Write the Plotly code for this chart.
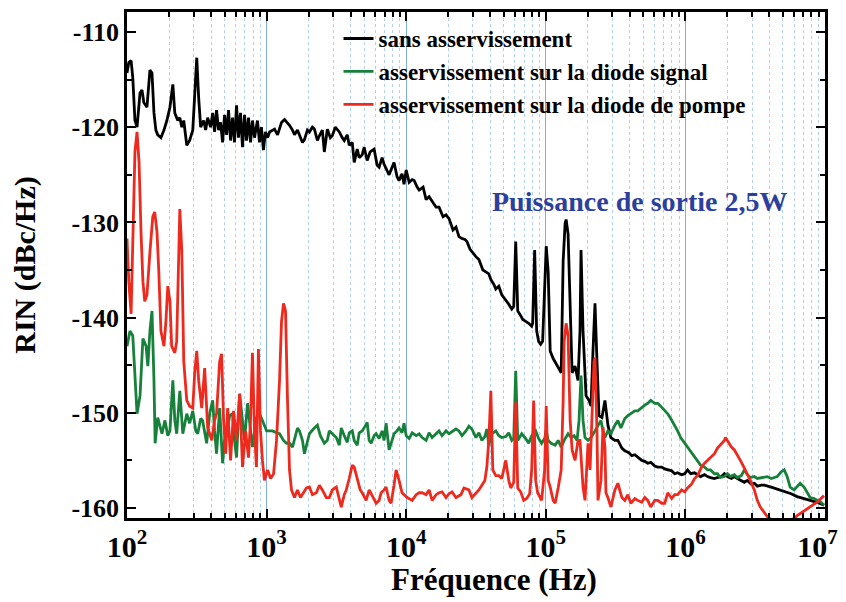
import plotly.graph_objects as go

# ---------------- data ----------------
series_names = ["sans asservissement",
                "asservissement sur la diode signal",
                "asservissement sur la diode de pompe"]

black_freq = [100, 103, 107, 110, 114, 118, 124, 128, 132, 139, 146, 151, 156, 161, 166, 175, 184, 193, 203, 213,
              220, 231, 239, 247, 255, 268, 281, 296, 306, 316, 326, 337, 354, 366, 378, 397, 411, 424, 438, 453,
              468, 484, 500, 517, 534, 552, 570, 589, 609, 629, 650, 672, 695, 718, 742, 767, 792, 819, 860, 889,
              918, 949, 981,
              1017, 1050, 1140, 1198, 1279, 1344, 1412, 1459, 1533, 1584, 1664, 1719, 1806, 1866, 1961, 2026, 2128,
              2200, 2311, 2388, 2508, 2592, 2723, 2861, 2956, 3106, 3317, 3484, 3600, 3782, 3908, 4105, 4243, 4457,
              4606, 4839, 5000, 5253, 5518, 5893, 6191, 6398, 6721, 6946, 7297, 7541, 7922, 8186, 8600, 8887, 9336,
              9648,
              10000, 10500, 11040, 11400, 11980, 12380, 13220, 13890, 14590, 15330, 16370, 17190, 18360, 19290,
              20260, 21640, 22730, 23880, 25080, 26350, 27230, 28610, 29560, 31570, 33170, 35420, 37200, 39080,
              40390, 42430, 43840, 46060, 48390, 50830, 54280, 57030, 58930, 60900, 62940, 66120, 68330, 71780,
              75410, 79220, 80530, 83220, 86000, 88870, 91840, 94910, 98080,
              100700, 104000, 107500, 112900, 118600, 124600, 128900, 133100, 137500, 139800, 144400, 149400,
              154300, 162000, 170200, 175800, 178800, 184800, 194200, 204000, 210800, 217800, 225100, 232600,
              240400, 252500, 265200, 278600, 292700, 312600, 328400, 350700, 368300, 393400, 413300, 434200,
              456100, 487000, 511600, 537500, 564700, 603000, 633500, 677000, 711000, 747000, 798000, 838000,
              880000, 940000, 987000,
              1.036e6, 1.089e6, 1.163e6, 1.222e6, 1.284e6, 1.371e6, 1.440e6, 1.513e6, 1.615e6, 1.697e6, 1.812e6,
              1.903e6, 2.000e6, 2.136e6, 2.243e6, 2.357e6, 2.516e6, 2.644e6, 2.777e6, 2.966e6, 3.116e6, 3.274e6,
              3.496e6, 3.672e6, 4.119e6, 4.546e6, 5.10e6, 5.72e6, 6.315e6, 7.08e6, 7.95e6, 8.77e6, 9.84e6]
black_rin = [-114.3, -113.2, -113.0, -114.8, -119.3, -120.0, -116.4, -116.1, -117.4, -117.9, -114.0, -114.3, -118.5,
             -120.3, -120.8, -121.1, -120.3, -119.3, -117.9, -115.5, -118.5, -119.3, -119.0, -120.0, -119.3, -121.9,
             -121.4, -120.3, -116.4, -112.7, -116.9, -120.0, -119.3, -120.3, -119.0, -120.0, -118.5, -120.5, -118.2,
             -120.3, -119.5, -121.6, -118.7, -120.8, -118.2, -121.4, -119.0, -121.6, -117.7, -121.1, -118.5, -122.1,
             -118.7, -121.4, -119.0, -121.6, -119.3, -121.1, -119.3, -121.6, -120.0, -122.4, -120.5,
             -121.1, -120.5, -120.2, -120.8, -119.5, -119.2, -119.5, -119.8, -120.3, -120.8, -120.3, -120.9, -121.6,
             -121.3, -120.3, -120.5, -120.0, -120.2, -121.4, -120.9, -120.3, -122.6, -120.2, -121.1, -120.9, -120.0,
             -120.5, -121.1, -121.4, -120.8, -121.9, -121.6, -123.7, -122.3, -123.2, -122.9, -122.1, -123.5, -122.6,
             -122.3, -124.0, -124.2, -123.2, -123.9, -124.5, -125.0, -124.2, -123.7, -125.2, -125.6, -124.9, -126.0,
             -124.5, -125.8, -125.5, -125.6, -126.3, -126.6, -126.3, -127.6, -127.3, -127.8, -128.4, -128.4, -129.4,
             -129.2, -129.6, -130.8, -130.5, -131.5, -131.7, -131.8, -132.0, -132.8, -133.1, -133.6, -133.9, -135.0,
             -135.2, -135.4, -136.0, -136.5, -137.0, -136.7, -137.6, -138.0, -138.6, -139.1, -138.8, -132.0, -139.3,
             -139.8, -140.2, -140.4, -140.6, -140.9, -140.6, -132.9, -141.4, -142.5, -142.8, -142.5, -136.2,
             -132.5, -135.2, -143.5, -144.3, -144.8, -145.4, -145.8, -134.1, -130.1, -129.7, -131.2, -138.3, -145.8,
             -145.1, -146.6, -141.4, -132.9, -141.4, -148.2, -148.7, -149.3, -143.5, -138.5, -144.6, -150.3, -150.5,
             -148.7, -151.3, -152.6, -152.9, -152.9, -153.7, -154.0, -154.2, -154.5, -154.4, -154.7, -155.0, -155.1,
             -155.3, -155.2, -155.6, -155.7, -155.7, -155.9, -156.0, -156.1, -156.4, -156.3, -156.5, -156.4,
             -156.0, -156.4, -156.3, -156.5, -156.7, -156.5, -156.7, -156.8, -156.9, -156.8, -156.7, -156.4, -156.7,
             -156.9, -156.7, -156.9, -157.1, -157.3, -157.1, -157.5, -157.4, -157.7, -157.6, -157.6, -157.8, -158.0,
             -158.3, -158.5, -158.8, -159.0, -159.2, -159.4, -159.7]

green_freq = [100, 105, 110, 114, 118, 124, 130, 137, 141, 146, 151, 156, 159, 166, 178, 187, 196, 203, 213, 220,
              227, 239, 251, 268, 281, 296, 311, 321, 337, 348, 372, 391, 411, 424, 438, 461, 484, 500, 526, 544,
              570, 589, 609, 641, 672, 695, 730, 767, 792, 846, 889, 934,
              1000, 1050, 1104, 1178, 1238, 1322, 1389, 1459, 1533, 1610, 1664, 1719, 1806, 1866, 1961, 2026, 2164,
              2311, 2427, 2592, 2723, 2814, 2956, 3157, 3317, 3427, 3600, 3782, 3908, 4105, 4243, 4457, 4606, 4839,
              5083, 5253, 5428, 5610, 5893, 6090, 6398, 6721, 6946, 7178, 7541, 7922, 8186, 8600, 8887, 9336, 9648,
              10000, 10500, 11040, 11780, 12380, 13010, 13890, 14590, 15330, 16370, 17190, 18060, 19290, 20260,
              21280, 22730, 23880, 25080, 26790, 28140, 29560, 31570, 33170, 34840, 36600, 37820, 39080, 41050,
              43840, 46060, 48390, 51670, 54280, 57030, 58930, 60900, 62940, 67210, 71780, 75410, 79220, 84610,
              88870, 93350, 98080,
              100700, 104000, 109200, 116700, 122600, 128900, 135400, 144400, 151800, 159500, 167500, 173000,
              178800, 184800, 190900, 200600, 210800, 225100, 236500, 248400, 256800, 265200, 278600, 292700,
              312600, 328400, 345000, 368300, 386900, 406400, 434200, 456100, 479100, 511600, 537500, 564700,
              603000, 633500, 665500, 711000, 747000, 784700, 838000, 880000, 924500, 987000,
              1.036e6, 1.106e6, 1.163e6, 1.222e6, 1.284e6, 1.371e6, 1.440e6, 1.513e6, 1.615e6, 1.697e6, 1.783e6,
              1.903e6, 2.000e6, 2.101e6, 2.243e6, 2.357e6, 2.516e6, 2.644e6, 2.777e6, 2.918e6, 3.116e6, 3.274e6,
              3.496e6, 3.672e6, 3.858e6, 4.119e6, 4.327e6, 4.546e6, 4.855e6, 5.10e6, 5.358e6, 5.628e6, 6.01e6,
              6.315e6, 6.634e6, 7.08e6, 7.44e6, 7.82e6, 8.35e6, 8.77e6, 9.37e6, 9.84e6]
green_rin = [-143.0, -141.4, -141.9, -146.6, -150.1, -148.2, -142.2, -143.0, -145.1, -141.4, -139.3, -146.6, -153.2,
             -150.5, -152.2, -150.8, -152.4, -151.9, -146.6, -150.8, -152.2, -147.7, -152.2, -150.1, -151.1, -149.8,
             -151.9, -152.2, -150.6, -150.8, -153.2, -150.1, -148.7, -151.9, -154.3, -149.5, -155.3, -152.9, -151.6,
             -150.3, -150.1, -152.9, -154.7, -148.0, -150.8, -152.9, -149.0, -151.9, -153.6, -150.5, -150.1, -150.8,
             -151.9, -151.9, -151.9, -152.1, -152.2, -152.9, -153.2, -153.2, -153.6, -152.4, -151.6, -151.9, -152.9,
             -154.3, -152.9, -152.2, -151.7, -151.3, -152.4, -153.2, -152.9, -151.9, -152.2, -152.6, -153.4, -151.6,
             -152.4, -153.1, -152.1, -151.9, -152.9, -153.4, -152.1, -151.9, -151.4, -151.0, -152.9, -153.2, -152.4,
             -152.2, -152.7, -151.9, -152.9, -151.1, -153.9, -152.7, -152.2, -151.9, -151.6, -152.1, -151.1,
             -152.4, -152.7, -152.1, -152.4, -152.2, -152.6, -152.9, -152.1, -152.6, -152.2, -151.9, -152.4, -151.9,
             -152.2, -152.0, -151.7, -151.9, -152.4, -151.9, -151.4, -151.7, -152.6, -152.1, -152.9, -152.5, -151.7,
             -153.4, -152.2, -151.9, -152.4, -152.6, -152.5, -152.1, -152.9, -152.7, -145.6, -152.9, -152.2, -152.7,
             -153.2, -152.4, -151.9, -152.7, -153.2, -152.7,
             -151.9, -152.9, -153.2, -153.4, -152.9, -153.6, -152.9, -152.2, -152.6, -152.4, -152.9, -150.8, -146.1,
             -150.8, -152.6, -152.9, -152.6, -151.9, -151.3, -150.8, -151.9, -152.6, -151.9, -152.2, -151.3, -150.8,
             -151.6, -150.6, -150.3, -150.1, -149.8, -149.8, -149.5, -149.2, -149.0, -148.7, -149.0, -149.0, -149.3,
             -149.8, -150.1, -150.6, -151.3, -151.9, -152.6, -153.2,
             -153.6, -154.2, -154.7, -155.1, -155.5, -155.7, -156.0, -156.0, -156.4, -156.4, -156.8, -156.7, -156.4,
             -156.7, -156.5, -156.8, -156.6, -156.0, -156.5, -156.8, -156.7, -156.9, -156.8, -156.8, -156.7, -156.9,
             -156.8, -156.7, -156.2, -156.0, -156.7, -157.8, -158.1, -157.7, -157.4, -157.8, -158.4, -158.9, -159.0,
             -159.2, -159.4, -159.7]

red_freq = [100, 103, 107, 110, 114, 118, 122, 126, 130, 134, 139, 146, 153, 158, 164, 169, 175, 184, 190, 196,
            203, 209, 220, 227, 235, 239, 247, 255, 268, 281, 296, 306, 316, 326, 343, 360, 378, 405, 424, 438,
            461, 476, 492, 509, 526, 552, 580, 609, 641, 672, 707, 742, 767, 792, 819, 846, 874, 904, 934, 965,
            1017, 1068, 1122, 1178, 1238, 1279, 1322, 1366, 1412, 1459, 1508, 1584, 1664, 1748, 1836, 1929, 2026,
            2128, 2273, 2388, 2508, 2679, 2814, 2956, 3157, 3317, 3427, 3600, 3720, 3908, 4105, 4243, 4457, 4682,
            4839, 5167, 5428, 5797, 6090, 6398, 6612, 6946, 7178, 7541, 7793, 8186, 8460, 8887, 9336,
            10170, 11040, 11780, 12380, 13010, 13890, 14590, 15330, 16370, 17190, 18060, 19290, 20260, 21280,
            22730, 24670, 25920, 28140, 29560, 31570, 33170, 34840, 36600, 37820, 39080, 40390, 41730, 43840,
            46060, 48390, 51670, 54280, 56100, 58930, 60900, 62940, 66120, 69460, 72970, 76650, 79220, 81860,
            84610, 87420, 93360, 98080,
            100700, 104000, 107500, 112900, 116700, 122600, 128900, 133100, 135400, 139800, 144400, 149400,
            154300, 162000, 170200, 175800, 184800, 190900, 200600, 207400, 214300, 221500, 225100, 232600,
            236500, 248400, 256800, 265200, 269600, 278600, 292700, 312600, 328400, 350700, 368300, 386900,
            406400, 434200, 456100, 487000, 511600, 537500, 564700, 603000, 633500, 677000, 711000, 747000,
            798000, 838000, 880000, 940000, 987000,
            1.036e6, 1.106e6, 1.163e6, 1.222e6, 1.305e6, 1.371e6, 1.440e6, 1.538e6, 1.615e6, 1.697e6, 1.812e6,
            1.903e6, 1.935e6, 2.033e6, 2.136e6, 2.243e6, 2.357e6, 2.476e6, 2.601e6, 2.777e6, 2.918e6, 3.116e6,
            3.274e6, 3.439e6, 3.672e6, 3.858e6, 4.119e6, 4.327e6, 4.546e6, 4.855e6, 5.10e6, 5.358e6, 5.72e6,
            6.01e6, 6.315e6, 6.74e6, 7.08e6, 7.44e6, 7.95e6, 8.35e6, 8.77e6, 9.37e6, 9.84e6]
red_rin = [-131.7, -136.2, -139.6, -131.0, -122.6, -120.5, -123.7, -131.0, -136.2, -138.3, -137.6, -133.1, -129.4,
           -128.9, -131.0, -135.2, -141.4, -143.0, -140.4, -136.7, -138.3, -143.0, -143.7, -142.5, -133.1, -128.6,
           -133.1, -144.6, -148.7, -149.3, -149.5, -145.6, -143.5, -146.6, -149.5, -145.3, -151.5, -152.9, -150.8,
           -150.1, -144.6, -143.8, -150.8, -154.3, -149.5, -155.0, -149.8, -152.9, -148.0, -155.7, -151.9, -154.7,
           -150.8, -143.7, -151.9, -155.7, -143.3, -151.9, -155.0, -157.1,
           -156.0, -156.9, -156.4, -152.9, -146.6, -140.4, -138.5, -139.3, -148.7, -156.0, -158.1, -158.9, -158.1,
           -158.9, -158.4, -157.9, -157.8, -158.6, -158.4, -157.6, -158.1, -158.9, -158.9, -158.1, -157.8, -159.2,
           -159.9, -158.6, -158.1, -156.9, -155.5, -155.7, -156.8, -158.1, -158.4, -159.2, -158.1, -158.9, -159.5,
           -159.2, -158.4, -158.1, -157.8, -159.2, -159.5, -157.6, -156.0, -157.1, -158.4,
           -158.9, -159.2, -158.6, -158.4, -158.4, -158.6, -158.1, -159.2, -158.6, -158.4, -158.3, -158.9, -158.5,
           -158.3, -158.9, -158.6, -157.9, -158.1, -158.9, -158.4, -158.1, -157.6, -157.1, -155.7, -152.9, -147.7,
           -156.0, -156.6, -156.6, -156.9, -155.0, -157.1, -157.9, -157.3, -148.9, -157.9, -158.3, -159.2, -159.0,
           -158.5, -156.0, -148.7, -157.1, -158.4, -159.2, -156.0,
           -149.3, -157.1, -157.8, -159.2, -159.5, -157.9, -156.0, -148.7, -142.5, -140.6, -141.9, -150.8, -153.9,
           -155.0, -152.9, -152.9, -157.8, -159.2, -153.2, -156.0, -150.8, -144.6, -144.2, -151.9, -159.2, -157.1,
           -151.5, -153.6, -158.4, -158.9, -159.9, -158.1, -157.4, -158.9, -159.2, -158.6, -159.5, -159.0, -159.2,
           -159.4, -158.9, -159.2, -159.9, -159.2, -159.2, -159.5, -159.5, -158.4, -159.0, -158.6, -158.6, -158.1,
           -158.3,
           -157.9, -157.5, -156.9, -156.6, -155.7, -155.3, -155.0, -154.5, -154.3, -153.7, -153.3, -152.9, -152.6,
           -153.1, -153.6, -153.9, -154.4, -155.0, -155.6, -156.4, -157.1, -158.1, -159.2, -159.9, -160.5, -160.9,
           -161.2, -161.4, -161.3, -161.5, -161.4, -161.3, -161.2, -161.1, -160.8, -160.5, -160.3, -160.1, -159.8,
           -159.6, -159.4, -159.0, -158.7]

series_colors = ["#000000", "#17803a", "#ee2a1e"]
x_tick_values = [1e2, 1e3, 1e4, 1e5, 1e6, 1e7]
x_tick_labels = ["10<sup>2</sup>", "10<sup>3</sup>", "10<sup>4</sup>", "10<sup>5</sup>", "10<sup>6</sup>",
                 "10<sup>7</sup>\u00a0\u00a0"]
y_tick_values = [-110, -120, -130, -140, -150, -160]
y_tick_labels = ["-110", "-120", "-130", "-140", "-150", "-160"]
annotation_text = "Puissance de sortie 2,5W"
x_title = "Fréquence (Hz)"
y_title = "RIN (dBc/Hz)"

# ---------------- figure ----------------
FONT = "Liberation Serif, Times New Roman, serif"
fig = go.Figure()
for name, fx, fy, col in zip(series_names,
                             [black_freq, green_freq, red_freq],
                             [black_rin, green_rin, red_rin],
                             series_colors):
    fig.add_trace(go.Scatter(x=fx, y=fy, mode="lines", name=name,
                             line=dict(color=col, width=2.8)))

# the page body adds an 8px offset, margins compensate for it
fig.update_layout(
    width=846, height=602,
    margin=dict(l=119, r=26, t=1, b=92),
    paper_bgcolor="white", plot_bgcolor="white",
    font=dict(family=FONT, size=24, color="black", weight="bold"),
    showlegend=True,
    legend=dict(x=0.303, y=0.99, xanchor="left", yanchor="top",
                bgcolor="rgba(0,0,0,0)", font=dict(size=23, family=FONT, weight="bold"),
                tracegroupgap=0, itemwidth=30),
    xaxis=dict(type="log", range=[2, 7], tickmode="array", tickvals=x_tick_values, ticktext=x_tick_labels,
               ticklabeloverflow="allow",
               ticks="inside", ticklen=9, tickwidth=2, tickcolor="black",
               showline=True, linewidth=2.5, linecolor="black", mirror="allticks",
               showgrid=True, gridcolor="#7fb0dc", gridwidth=1, zeroline=False,
               tickfont=dict(size=30, family=FONT, weight="bold"),
               minor=dict(dtick="D1", ticks="inside", ticklen=5, tickwidth=1.5, tickcolor="black",
                          showgrid=True, gridcolor="#b5d0ec", griddash="dot", gridwidth=1)),
    yaxis=dict(range=[-161.05, -107.9], tickmode="array", tickvals=y_tick_values, ticktext=y_tick_labels,
               ticks="inside", ticklen=9, tickwidth=2, tickcolor="black",
               showline=True, linewidth=2.5, linecolor="black", mirror="allticks",
               showgrid=False, zeroline=False,
               tickfont=dict(size=26, family=FONT, weight="bold"),
               title=dict(text=y_title, font=dict(size=30, family=FONT, weight="bold"), standoff=34),
               minor=dict(tickmode="linear", tick0=-110, dtick=5, ticks="inside", ticklen=5,
                          tickwidth=1.5, tickcolor="black")),
    annotations=[
        dict(text=annotation_text, xref="paper", yref="paper", x=0.735, y=0.625,
             xanchor="center", yanchor="middle", showarrow=False,
             font=dict(size=28, color="#2d3f9d", family=FONT, weight="bold")),
        dict(text=x_title, xref="paper", yref="paper", x=0.526, y=-0.122,
             xanchor="center", yanchor="middle", showarrow=False,
             font=dict(size=31, color="black", family=FONT, weight="bold")),
    ],
)

fig.write_html("out.html")
